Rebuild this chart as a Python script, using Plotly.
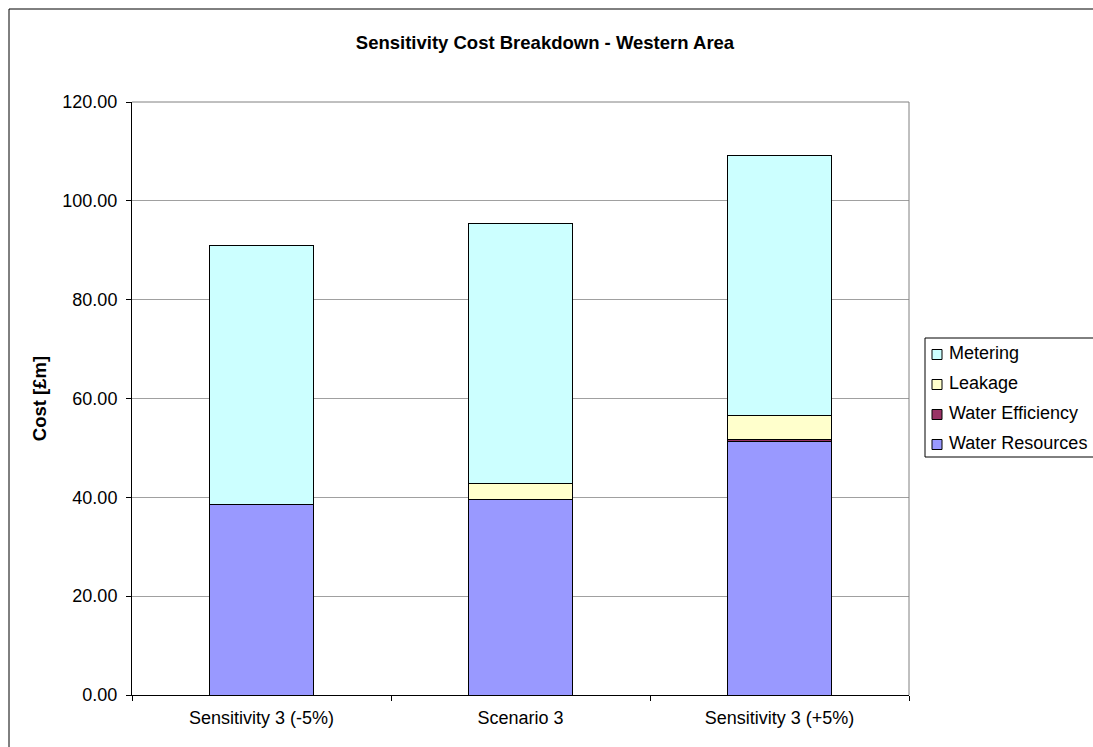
import plotly.graph_objects as go

# Scenario categories and cost components (£m)
categories = ["Sensitivity 3 (-5%)", "Scenario 3", "Sensitivity 3 (+5%)"]
water_resources = [38.5, 39.5, 51.3]
water_efficiency = [0.0, 0.0, 0.4]
leakage = [0.0, 3.3, 4.8]
metering = [52.5, 52.6, 52.7]

y_ticks = [0, 20, 40, 60, 80, 100, 120]

series = [
    ("Water Resources", water_resources, "#9999FF"),
    ("Water Efficiency", water_efficiency, "#993366"),
    ("Leakage", leakage, "#FFFFCC"),
    ("Metering", metering, "#CCFFFF"),
]

FONT = "Liberation Sans, Arial, sans-serif"

fig = go.Figure()
for name, vals, color in series:
    fig.add_trace(go.Bar(
        name=name, x=categories, y=vals, showlegend=False,
        marker=dict(color=color, line=dict(color="black", width=1)),
    ))

# Plot-area geometry in pixels
W, H = 1093, 747
L, R, T, B = 132, 909, 102, 695
pw, ph = R - L, B - T


def px_x(x):
    return (x - L) / pw


def px_y(y):
    return (B - y) / ph


fig.update_layout(
    width=W, height=H,
    barmode="stack", bargap=0.6,
    plot_bgcolor="white", paper_bgcolor="white",
    margin=dict(l=L, r=W - R, t=T, b=H - B, autoexpand=False),
    font=dict(family=FONT, size=18, color="black"),
    title=dict(
        text="<b>Sensitivity Cost Breakdown - Western Area</b>",
        x=545 / W, xanchor="center", xref="container",
        y=1 - 43 / H, yanchor="middle",
        font=dict(size=18.5, family=FONT),
    ),
    showlegend=False,
)

fig.update_yaxes(
    range=[0, 120], tickvals=y_ticks,
    tickformat=".2f",
    showgrid=True, gridcolor="#A0A0A0", gridwidth=1,
    showline=True, linecolor="black", linewidth=1,
    ticks="outside", ticklen=5, tickcolor="black",
    ticklabelstandoff=5,
    zeroline=False,
    tickfont=dict(size=18, family=FONT),
    title=dict(text="<b>Cost [£m]</b>", font=dict(size=18.5, family=FONT), standoff=10),
)
fig.update_xaxes(
    showline=True, linecolor="black", linewidth=1,
    ticks="outside", ticklen=5, tickcolor="black",
    tickson="boundaries",
    ticklabelstandoff=6,
    showgrid=False,
    tickfont=dict(size=18, family=FONT),
)

# Gray plot-area border (top and right edges)
fig.add_shape(type="line", xref="paper", yref="paper", x0=0, x1=1, y0=1, y1=1,
              line=dict(color="#808080", width=1))
fig.add_shape(type="line", xref="paper", yref="paper", x0=1, x1=1, y0=0, y1=1,
              line=dict(color="#808080", width=1))

# Outer chart frame
fig.add_shape(type="rect", xref="paper", yref="paper",
              x0=px_x(9), x1=px_x(W + 20),
              y0=px_y(H + 20), y1=px_y(9),
              line=dict(color="black", width=1), layer="below")

# Legend box with entries listed top-down (reverse of stacking order)
fig.add_shape(type="rect", xref="paper", yref="paper",
              x0=px_x(925), x1=px_x(W + 20), y0=px_y(457), y1=px_y(338),
              line=dict(color="black", width=1), fillcolor="white")
row_y = [353, 383, 413, 443]
for (name, _, color), yc in zip(reversed(series), row_y):
    fig.add_shape(type="rect", xref="paper", yref="paper",
                  x0=px_x(932), x1=px_x(942), y0=px_y(yc + 6.5), y1=px_y(yc - 3.5),
                  line=dict(color="black", width=1), fillcolor=color)
    fig.add_annotation(xref="paper", yref="paper", x=px_x(947), y=px_y(yc),
                       xanchor="left", yanchor="middle", showarrow=False,
                       text=name, font=dict(size=18, family=FONT, color="black"))

fig.write_html("out.html")
